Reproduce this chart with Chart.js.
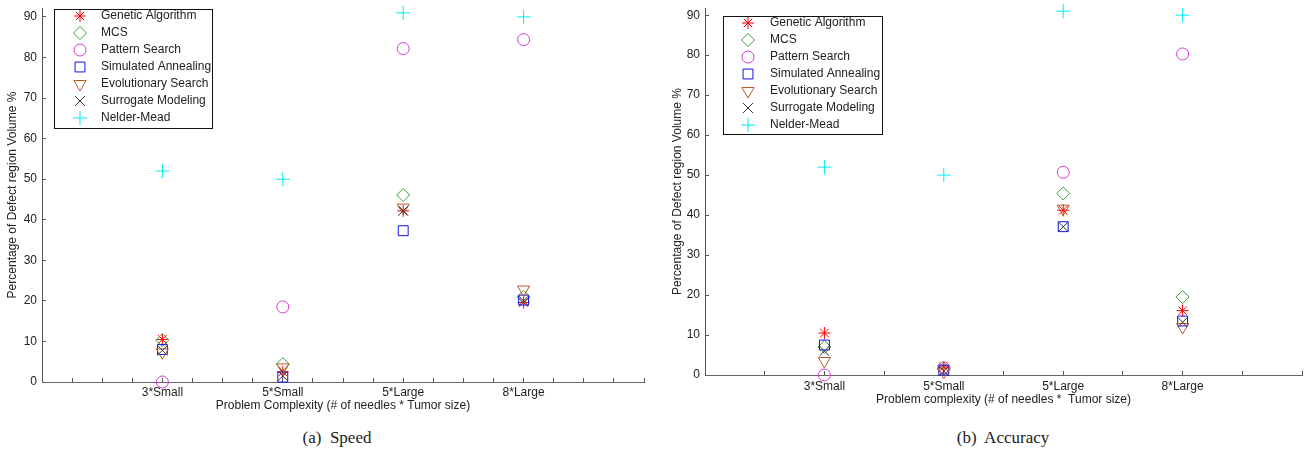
<!DOCTYPE html>
<html lang="en">
<head>
    <meta charset="UTF-8">
    <title>Speed and Accuracy</title>
    <style>
        body {
            margin: 0;
            background: #ffffff;
            width: 1316px;
            height: 455px;
            position: relative;
            overflow: hidden;
        }
        .panel {
            position: absolute;
            top: 0;
            width: 658px;
            height: 420px;
        }
        .caption {
            position: absolute;
            top: 428px;
            font-family: "Liberation Serif", "DejaVu Serif", serif;
            font-size: 17px;
            color: #222;
            text-align: center;
            width: 300px;
        }
    </style>
    <script src="https://cdn.jsdelivr.net/npm/chart.js"></script>
</head>
<body>
    <div class="panel" style="left:0"><canvas id="speedChart" width="658" height="420"></canvas></div>
    <div class="panel" style="left:658px"><canvas id="accuracyChart" width="658" height="420"></canvas></div>
    <div class="caption" style="left:187px">(a)&nbsp; Speed</div>
    <div class="caption" style="left:853px">(b)&nbsp; Accuracy</div>

    <script>
        // problem sizes on the x axis
        const categories = ['3*Small', '5*Small', '5*Large', '8*Large'];
        const xPositions = [1, 2, 3, 4];

        const methods = ['Genetic Algorithm', 'MCS', 'Pattern Search', 'Simulated Annealing',
                         'Evolutionary Search', 'Surrogate Modeling', 'Nelder-Mead'];

        // (a) speed
        const speedGA  = [10.5, 2.5, 42.2, 19.6];
        const speedMCS = [10.3, 4.4, 46.1, 21.0];
        const speedPS  = [0, 18.5, 82.2, 84.4];
        const speedSA  = [8.0, 1.2, 37.3, 20.2];
        const speedES  = [7.3, 3.6, 43.0, 22.8];
        const speedSM  = [7.8, 1.5, 42.2, 20.0];
        const speedNM  = [52, 50, 91, 90];

        // (b) accuracy
        const accGA  = [10.5, 2.0, 41.2, 16.1];
        const accMCS = [7.0, 1.5, 45.4, 19.5];
        const accPS  = [0, 1.8, 50.7, 80.3];
        const accSA  = [7.5, 1.2, 37.1, 13.5];
        const accES  = [3.5, 0.8, 41.6, 12.0];
        const accSM  = [6.0, 1.0, 37.1, 13.2];
        const accNM  = [52, 50, 91, 90];

        const yTicks = [0, 10, 20, 30, 40, 50, 60, 70, 80, 90];

        // marker look for each method (matlab style)
        const markers = [
            { color: '#ff0000', style: 'star', radius: 6, rotation: 0 },
            { color: '#3c9c3c', style: 'rectRot', radius: 6.5, rotation: 0 },
            { color: '#d23cd2', style: 'circle', radius: 6, rotation: 0 },
            { color: '#1010f0', style: 'rect', radius: 7, rotation: 0 },
            { color: '#b85a2a', style: 'triangle', radius: 7, rotation: 180 },
            { color: '#333333', style: 'crossRot', radius: 7, rotation: 0 },
            { color: '#00eeee', style: 'cross', radius: 7, rotation: 0 }
        ];

        Chart.defaults.font.family = 'Arial, "Liberation Sans", sans-serif';
        Chart.defaults.font.size = 12;
        Chart.defaults.color = '#222';

        function makeDatasets(series) {
            return series.map((vals, i) => ({
                label: methods[i],
                data: vals.map((v, k) => ({ x: xPositions[k], y: v })),
                showLine: false,
                pointStyle: markers[i].style,
                pointRadius: markers[i].radius,
                pointHoverRadius: markers[i].radius,
                pointRotation: markers[i].rotation,
                pointBorderWidth: 1,
                borderColor: markers[i].color,
                backgroundColor: 'rgba(0,0,0,0)',
                clip: false,
                order: series.length - i
            }));
        }

        // boxed legend inside the plot, like matlab
        const boxLegend = {
            id: 'boxLegend',
            afterDraw(chart, args, opts) {
                const ctx = chart.ctx;
                ctx.save();
                ctx.fillStyle = '#fff';
                ctx.fillRect(opts.x, opts.y, opts.w, opts.h);
                ctx.strokeStyle = '#111';
                ctx.lineWidth = 1;
                ctx.strokeRect(opts.x + 0.5, opts.y + 0.5, opts.w, opts.h);
                ctx.font = '12px Arial, "Liberation Sans", sans-serif';
                ctx.textBaseline = 'middle';
                chart.data.datasets.forEach((ds, i) => {
                    const y = opts.firstRow + i * opts.rowStep;
                    ctx.strokeStyle = ds.borderColor;
                    ctx.fillStyle = 'rgba(0,0,0,0)';
                    ctx.lineWidth = 1;
                    Chart.helpers.drawPoint(ctx, {
                        pointStyle: ds.pointStyle,
                        rotation: ds.pointRotation,
                        radius: ds.pointRadius,
                        borderWidth: 1
                    }, opts.markerX, y);
                    ctx.fillStyle = '#222';
                    ctx.fillText(ds.label, opts.textX, y);
                });
                ctx.restore();
            }
        };

        function makeChart(id, series, cfg) {
            return new Chart(document.getElementById(id), {
                type: 'scatter',
                data: { datasets: makeDatasets(series) },
                options: {
                    responsive: false,
                    animation: false,
                    events: [],
                    layout: { padding: { left: 0, top: cfg.top, right: cfg.right, bottom: 0 } },
                    plugins: {
                        legend: { display: false },
                        tooltip: { enabled: false },
                        boxLegend: cfg.legend
                    },
                    scales: {
                        x: {
                            type: 'linear',
                            min: 0,
                            max: 5,
                            afterFit: s => {
                                s.height = cfg.xHeight;
                                s.paddingLeft = 0; s.paddingRight = 0;
                            },
                            border: { color: '#666', width: 1 },
                            grid: { drawOnChartArea: false, tickLength: -4, tickColor: '#555' },
                            ticks: {
                                stepSize: cfg.xStep,
                                autoSkip: false,
                                maxRotation: 0,
                                padding: cfg.xTickPad,
                                color: '#222',
                                callback: v => (Number.isInteger(v) && v >= 1 && v <= 4) ? categories[v - 1] : ''
                            },
                            title: {
                                display: true,
                                text: cfg.xTitle,
                                color: '#222',
                                padding: { top: 0, bottom: cfg.xTitlePad }
                            }
                        },
                        y: {
                            min: 0,
                            max: cfg.yMax,
                            afterFit: s => {
                                s.width = cfg.yWidth;
                                s.paddingTop = 0; s.paddingBottom = 0;
                            },
                            afterBuildTicks: s => { s.ticks = yTicks.map(v => ({ value: v })); },
                            border: { color: '#555', width: 1 },
                            grid: { drawOnChartArea: false, tickLength: -4, tickColor: '#555' },
                            ticks: { padding: 9, color: '#222' },
                            title: {
                                display: true,
                                text: 'Percentage of Defect region Volume %',
                                color: '#222',
                                padding: { top: cfg.yTitlePad, bottom: 0 }
                            }
                        }
                    }
                },
                plugins: [boxLegend]
            });
        }

        makeChart('speedChart',
            [speedGA, speedMCS, speedPS, speedSA, speedES, speedSM, speedNM], {
                top: 2, right: 14, yMax: 92.2, yWidth: 42, xHeight: 38, xStep: 0.25, xTickPad: 7,
                xTitle: 'Problem Complexity (# of needles * Tumor size)',
                xTitlePad: 7, yTitlePad: 5,
                legend: { x: 54, y: 9, w: 158, h: 119, firstRow: 16, rowStep: 17, markerX: 80, textX: 101 }
            });

        makeChart('accuracyChart',
            [accGA, accMCS, accPS, accSA, accES, accSM, accNM], {
                top: 1, right: 14, yMax: 91.8, yWidth: 47, xHeight: 45, xStep: 0.5, xTickPad: 8,
                xTitle: 'Problem complexity (# of needles *  Tumor size)',
                xTitlePad: 13, yTitlePad: 12,
                legend: { x: 65, y: 16, w: 159, h: 118, firstRow: 23, rowStep: 17, markerX: 90, textX: 112 }
            });
    </script>
</body>
</html>
